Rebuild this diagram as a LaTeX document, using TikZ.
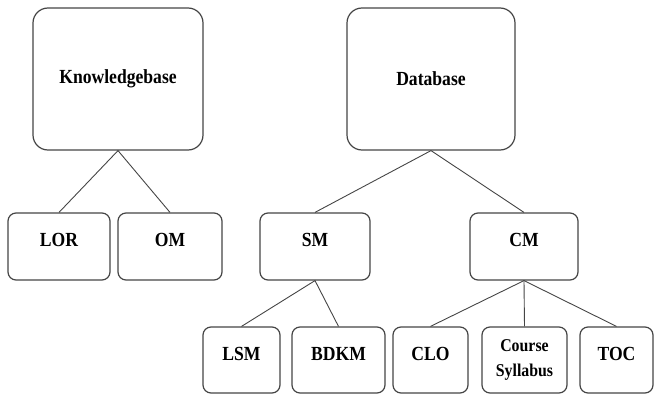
\documentclass[tikz,border=0pt]{standalone}
\usepackage{fontspec}
\newfontfamily\boxfont[FakeStretch=0.88]{Liberation Serif}
\definecolor{edge}{rgb}{0.27,0.27,0.27}

\begin{document}
\begin{tikzpicture}[x=1pt, y=-1pt,
	bigbox/.style={draw=edge, line width=1.2pt, rounded corners=15pt, minimum width=#1, minimum height=142pt, inner sep=0pt, font=\boxfont\fontsize{20}{22}\selectfont\bfseries},
	smallbox/.style={draw=edge, line width=1.2pt, rounded corners=8pt, minimum width=#1, minimum height=66pt, inner sep=0pt, text height=14pt, text depth=14pt, font=\boxfont\fontsize{20}{22}\selectfont\bfseries},
	link/.style={draw=edge, line width=0.9pt}]
	\useasboundingbox (0,0) rectangle (654,396);
	
	% top
	\node[bigbox=170pt] (kb) at (118,79) {Knowledgebase};
	\node[bigbox=168pt] (db) at (431,79) {Database};
	
	% middle row
	\node[smallbox=102pt, minimum height=67pt] (lor) at (59,246.5) {LOR};
	\node[smallbox=104pt, minimum height=67pt] (om) at (170,246.5) {OM};
	\node[smallbox=110pt, minimum height=67pt] (sm) at (315,246.5) {SM};
	\node[smallbox=108pt, minimum height=67pt] (cm) at (524,246.5) {CM};
	
	% bottom row
	\node[smallbox=77pt] (lsm) at (241.5,360) {LSM};
	\node[smallbox=93pt] (bdkm) at (338.5,360) {BDKM};
	\node[smallbox=75pt] (clo) at (430.5,360) {CLO};
	\node[smallbox=85pt, text height=, text depth=, align=center, font=\boxfont\fontsize{18}{25}\selectfont\bfseries] (cs) at (524.5,360) {Course\\Syllabus};
	\node[smallbox=73pt] (toc) at (616.5,360) {TOC};
	
	% links
	\draw[link] (lor.north) -- (kb.south) -- (om.north);
	\draw[link] (sm.north) -- (db.south) -- (cm.north);
	\draw[link] (lsm.north) -- (sm.south) -- (bdkm.north);
	\draw[link] (clo.north) -- (cm.south) -- (toc.north);
	\draw[link] (cm.south) -- (cs.north);
\end{tikzpicture}
\end{document}
